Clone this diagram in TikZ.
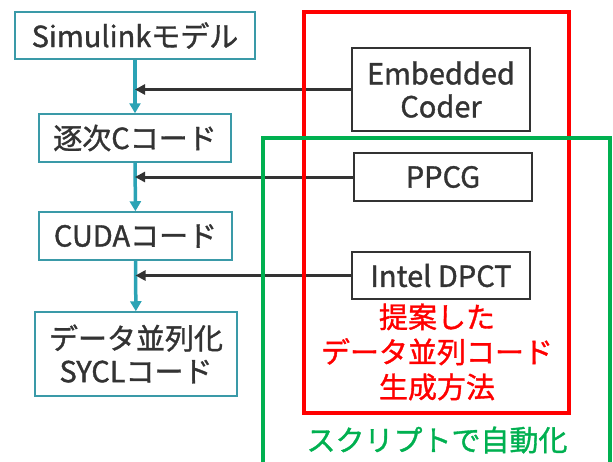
\documentclass[tikz,border=0pt]{standalone}
\usepackage{fontspec}
\setmainfont{Noto Sans CJK JP}[FakeBold=1.2]
\usetikzlibrary{arrows.meta}
\definecolor{flowteal}{HTML}{2BA3B5}
\definecolor{boxedge}{HTML}{3A9AA8}
\definecolor{darktext}{HTML}{333333}
\definecolor{propred}{HTML}{FF0000}
\definecolor{autogreen}{HTML}{00B050}
\tikzset{
    stage/.style={draw=boxedge,line width=1.5pt,text=darktext,inner sep=0pt,align=center,
        font=\fontsize{29}{33}\selectfont},
    tool/.style={draw=darktext,line width=1.5pt,text=darktext,inner sep=0pt,align=center,
        minimum width=178pt,font=\fontsize{29}{33}\selectfont},
    flow/.style={draw=flowteal,line width=3.5pt,-{Triangle[length=10pt,width=11pt]}},
    feed/.style={draw=darktext,line width=3pt,-{Triangle[length=10pt,width=10pt]}},
    every label/.append style={black}
}

\begin{document}
\begin{tikzpicture}[x=1pt,y=-1pt]
                            \useasboundingbox (0,0) rectangle (613,461);
                            % stages of the flow
                            \node[stage,minimum width=240pt,minimum height=47pt] (sim) at (135,35.5) {Simulinkモデル};
                            \node[stage,minimum width=192pt,minimum height=48pt] (seq) at (135,138) {逐次Cコード};
                            \node[stage,minimum width=193pt,minimum height=48pt] (cuda) at (135.5,236) {CUDAコード};
                            \node[stage,minimum width=202pt,minimum height=84pt] (sycl) at (136,354) {データ並列化\\SYCLコード};
                            % tools
                            \node[tool,minimum height=83pt] (emb) at (441,89.5) {Embedded\\Coder};
                            \node[tool,minimum height=48pt] (ppcg) at (443,177) {PPCG};
                            \node[tool,minimum height=47pt] (dpct) at (441,275.5) {Intel DPCT};
                            \draw[flow] (sim) -- (seq);
                            \draw[flow] (seq) -- (cuda);
                            \draw[flow] (cuda) -- (sycl);
                            \draw[feed] (emb.west) -- (emb.west -| sim.south) coordinate (embin);
                            \draw[feed] (ppcg.west) -- (ppcg.west -| seq.south) coordinate (ppcgin);
                            \draw[feed] (dpct.west) -- (dpct.west -| cuda.south) coordinate (dpctin);
                            % frames
                            \draw[propred,line width=4pt] (304,12) rectangle (569,413);
                            \draw[autogreen,line width=3.5pt] (263,466) -- (263,138) -- (610,138) -- (610,466);
                            \node[text=propred,align=center,font=\fontsize{29}{35}\selectfont] (proplabel) at (437,352) {提案した\\データ並列コード\\生成方法};
                            \node[text=autogreen,font=\fontsize{29}{33}\selectfont] (autolabel) at (437,440) {スクリプトで自動化};
                        \end{tikzpicture}
\end{document}
